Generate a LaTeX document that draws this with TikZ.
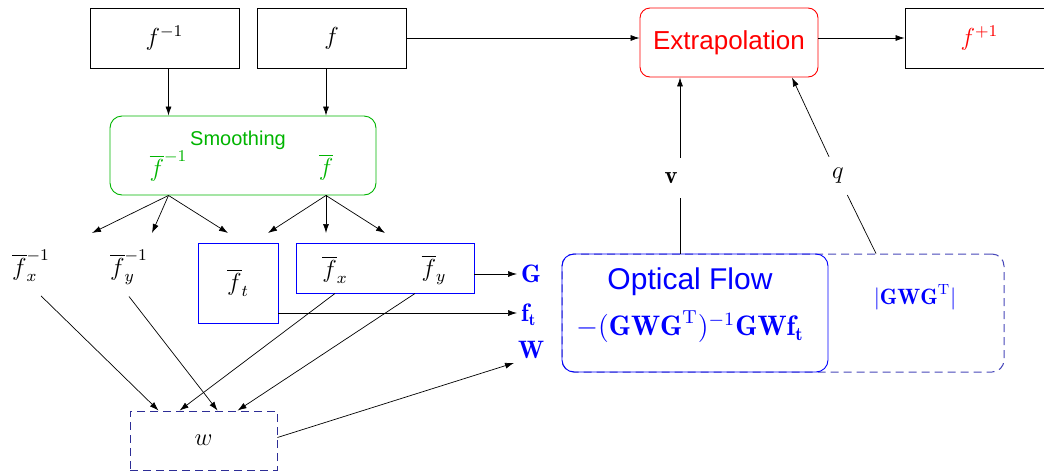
\documentclass[tikz,border=0pt]{standalone}
\usepackage{fontspec}
\setsansfont{Liberation Sans}
\usetikzlibrary{arrows.meta}
\definecolor{ggreen}{RGB}{0,180,0}
\definecolor{dashc}{RGB}{70,70,185}
\definecolor{wcol}{RGB}{45,45,150}
\newcommand\fsz[1]{\fontsize{#1}{#1}\selectfont}
\newcommand\mth[2]{\scalebox{#1}{\fsz{12}$#2$}}
\begin{document}
\begin{tikzpicture}[x=1pt,y=-1pt,
  arr/.style={-{Latex[length=9pt,width=6pt]}, line width=0.7pt},
  plain/.style={line width=0.7pt},
  bbox/.style={draw, line width=0.9pt, inner sep=0pt, minimum width=149pt, minimum height=60pt},
  bluebox/.style={draw=blue, line width=0.9pt, inner sep=0pt},
  lbl/.style={inner sep=0pt},
  bluelbl/.style={text=blue, inner sep=4pt, anchor=west}
]
\useasboundingbox (0,0) rectangle (1044,472);

% top row
\node[bbox] (fm1) at (164.5,38) {\mth{2.05}{f^{-1}}};
\node[bbox] (f0) at (331.5,38) {\mth{2.05}{f}};
\node[draw=red, rounded corners=10pt, line width=0.9pt, minimum width=178pt, minimum height=69pt, inner sep=0pt, text=red, font={\sffamily\fsz{26}}] (ext) at (729,42.5) {Extrapolation};
\node[bbox, text=red] (fp1) at (979.5,38) {\mth{2.05}{f^{+1}}};

\draw[arr] (f0.east) -- (f0.east -| ext.west);
\draw[arr] (ext.east |- fp1) -- (fp1.west);

% smoothing
\node[draw=ggreen, rounded corners=12pt, line width=0.9pt, minimum width=266pt, minimum height=79pt, inner sep=0pt] (sm) at (243,155.5) {};
\node[text=ggreen, font={\sffamily\fsz{20}}] (smt) at (238,140) {Smoothing};
\node[lbl, text=ggreen] (fb1) at (168.5,166) {\mth{2.05}{\overline{f}^{-1}}};
\node[lbl, text=ggreen] (fb0) at (326,167) {\mth{2.05}{\overline{f}}};

\draw[arr] (fm1.south -| fb1) -- (sm.north -| fb1);
\draw[arr] (f0.south -| fb0) -- (sm.north -| fb0);

\coordinate (a1) at (92,233);
\coordinate (a2) at (152,233);
\coordinate (a3) at (228,233);
\coordinate (a4) at (268,233);
\coordinate (a5) at (326,233);
\coordinate (a6) at (385,233);
\foreach \t in {a1,a2,a3} \draw[arr] (sm.south -| fb1) -- (\t);
\foreach \t in {a4,a5,a6} \draw[arr] (sm.south -| fb0) -- (\t);

% derivatives
\node[lbl] (fx1) at (31,266) {\mth{2.05}{\overline{f}_x^{-1}}};
\node[lbl] (fy1) at (129,267) {\mth{2.05}{\overline{f}_y^{-1}}};
\node[bluebox, minimum width=80pt, minimum height=80pt] (ft) at (238,283) {\mth{2.05}{\overline{f}_t}};
\node[bluebox, minimum width=178pt, minimum height=50pt] (fxy) at (385,268) {};
\node[lbl] (fx) at (335,270) {\mth{2.05}{\overline{f}_x}};
\node[lbl] (fy) at (434,270) {\mth{2.05}{\overline{f}_y}};

\node[bluelbl] (G) at (517,274) {\mth{2.1}{\mathbf{G}}};
\node[bluelbl] (FT) at (517,315) {\mth{2.1}{\mathbf{f_t}}};
\node[bluelbl] (W) at (514,350) {\mth{2.1}{\mathbf{W}}};

\draw[arr] (fxy.east |- G) -- (G.west);
\draw[arr] (ft.east |- 0,313) -- (FT.west |- 0,313);

% w
\node[draw=wcol, dash pattern=on 8pt off 5pt, line width=0.9pt, minimum width=147pt, minimum height=59pt, inner sep=0pt] (w) at (203.5,440.5) {\mth{2.05}{w}};

\draw[arr] ([xshift=10pt,yshift=-14pt]fx1.south) -- ([xshift=29pt]w.north west);
\draw[arr] ([yshift=-12pt]fy1.south) -- ([xshift=88pt]w.north west);
\draw[arr] (fxy.south -| fx) -- ([xshift=50pt]w.north west);
\draw[arr] ([xshift=30pt]fxy.south) -- ([xshift=108pt]w.north west);
\draw[arr] ([yshift=3pt]w.east) -- (W.south west);

% optical flow
\node[draw=dashc, dash pattern=on 8pt off 5pt, rounded corners=12pt, line width=1pt, minimum width=442pt, minimum height=118pt, inner sep=0pt] (dbox) at (783,313) {};
\node[draw=blue, rounded corners=12pt, line width=0.9pt, minimum width=266pt, minimum height=118pt, inner sep=0pt] (opt) at (695,313) {};
\node[text=blue, font={\sffamily\fsz{30}}] (optt) at (690,282) {Optical Flow};
\node[text=blue] (form) at (690,327) {\mth{2.35}{-(\mathbf{GWG}^{\mathrm{T}})^{-1}\mathbf{GWf_t}}};
\node[text=blue] (det) at (915,297) {\mth{1.85}{|\mathbf{GWG}^{\mathrm{T}}|}};

% v and q
\coordinate (vl) at (680,0);
\node[minimum height=40pt, inner sep=0pt] (v) at (671,178) {\mth{2.05}{\mathbf{v}}};
\draw[plain] (opt.north -| vl) -- (v.south -| vl);
\draw[arr] (v.north -| vl) -- (ext.south -| vl);
\node[circle, minimum size=42pt, inner sep=0pt] (q) at (838,176) {\mth{2.05}{q}};
\draw[plain] ([xshift=93pt]dbox.north) -- (q);
\draw[arr] (q) -- ([xshift=63pt]ext.south);
\end{tikzpicture}
\end{document}
